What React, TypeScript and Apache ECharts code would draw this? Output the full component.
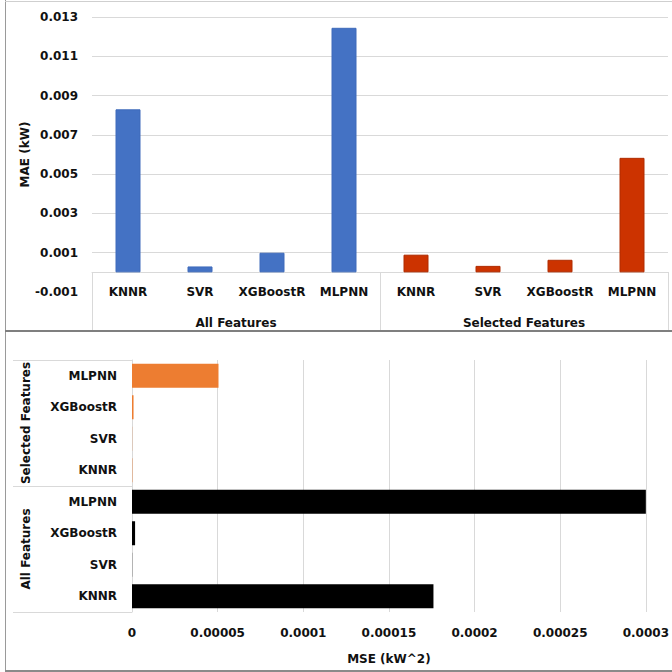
import React, { useEffect, useRef } from "react";
import * as echarts from "echarts";

const models = ["KNNR", "SVR", "XGBoostR", "MLPNN"];
const groups = ["All Features", "Selected Features"];
const categories = [...models, ...models];

// MAE (kW)
const maeAll = [0.0083, 0.0003, 0.001, 0.01245];
const maeSelected = [0.0009, 0.00033, 0.00064, 0.00583];

// MSE (kW^2)
const mseAll = [0.000176, 0.0000001, 0.0000018, 0.0003];
const mseSelected = [0.0000002, 0.0000001, 0.0000009, 0.0000505];

const maeTicks = { min: -0.001, max: 0.013, interval: 0.002 };
const mseTicks = { min: 0, max: 0.0003, interval: 0.00005 };

const FONT = "DejaVu Sans";
const TXT = "#111111";
const GRID = "#d9d9d9";

export default function App() {
  const ref = useRef<HTMLDivElement>(null);
  useEffect(() => {
    if (!ref.current) return;
    const chart = echarts.init(ref.current, null, { renderer: "svg" });
    const nulls = models.map(() => null);
    const labelStyle = { color: TXT, fontFamily: FONT, fontWeight: "bold" as const, fontSize: 12 };
    const option: any = {
      animation: false,
      backgroundColor: "#ffffff",
      grid: [
        { left: 92, right: 4, top: 17, height: 275 },
        { left: 132, width: 517, top: 360, height: 252 },
      ],
      xAxis: [
        {
          type: "category",
          gridIndex: 0,
          data: categories,
          position: "bottom",
          offset: -20,
          axisLine: { show: false, onZero: false },
          axisTick: { show: false },
          axisLabel: { ...labelStyle, interval: 0, margin: 14 },
          splitLine: { show: false },
        },
        {
          type: "category",
          gridIndex: 0,
          data: groups,
          position: "bottom",
          offset: -20,
          axisLine: { show: true, onZero: false, lineStyle: { color: GRID, width: 1 } },
          axisTick: { show: true, length: 58, lineStyle: { color: GRID, width: 1 } },
          axisLabel: { ...labelStyle, interval: 0, margin: 45 },
          splitLine: { show: false },
        },
        {
          type: "value",
          gridIndex: 1,
          min: mseTicks.min,
          max: mseTicks.max,
          interval: mseTicks.interval,
          axisLine: { show: false },
          axisTick: { show: false },
          axisLabel: {
            ...labelStyle,
            margin: 15,
            formatter: (v: number) => String(parseFloat(v.toFixed(5))),
          },
          splitLine: { show: true, lineStyle: { color: GRID, width: 1 } },
          name: "MSE (kW^2)",
          nameLocation: "middle",
          nameGap: 41,
          nameMoveOverlap: false,
          nameTextStyle: { ...labelStyle },
        },
      ],
      yAxis: [
        {
          type: "value",
          gridIndex: 0,
          min: maeTicks.min,
          max: maeTicks.max,
          interval: maeTicks.interval,
          axisLine: { show: false },
          axisTick: { show: false },
          axisLabel: { ...labelStyle, margin: 14, formatter: (v: number) => v.toFixed(3) },
          splitLine: {
            show: true,
            lineStyle: {
              color: ["rgba(0,0,0,0)", GRID, GRID, GRID, GRID, GRID, GRID, GRID],
              width: 1,
            },
          },
          name: "MAE (kW)",
          nameLocation: "middle",
          nameGap: 61,
          nameMoveOverlap: false,
          nameTextStyle: { ...labelStyle },
        },
        {
          type: "category",
          gridIndex: 1,
          data: categories,
          position: "left",
          axisLine: { show: false },
          axisTick: { show: false },
          axisLabel: { ...labelStyle, interval: 0, margin: 15 },
          splitLine: { show: false },
        },
        {
          type: "category",
          gridIndex: 1,
          data: groups,
          position: "left",
          axisLine: { show: true, onZero: false, lineStyle: { color: GRID, width: 1 } },
          axisTick: { show: true, length: 119, lineStyle: { color: GRID, width: 1 } },
          axisLabel: { ...labelStyle, interval: 0, rotate: 90, margin: 100 },
          splitLine: { show: false },
        },
      ],
      series: [
        {
          type: "bar",
          xAxisIndex: 0,
          yAxisIndex: 0,
          stack: "mae",
          barWidth: 25,
          data: [...maeAll, ...nulls],
          itemStyle: { color: "#4472C4", borderColor: "#3f6bbb", borderWidth: 1 },
        },
        {
          type: "bar",
          xAxisIndex: 0,
          yAxisIndex: 0,
          stack: "mae",
          barWidth: 25,
          data: [...nulls, ...maeSelected],
          itemStyle: { color: "#CC3300", borderColor: "#b02c00", borderWidth: 1 },
        },
        {
          type: "bar",
          xAxisIndex: 2,
          yAxisIndex: 1,
          stack: "mse",
          barWidth: 24,
          data: [...mseAll, ...nulls],
          itemStyle: { color: "#000000" },
        },
        {
          type: "bar",
          xAxisIndex: 2,
          yAxisIndex: 1,
          stack: "mse",
          barWidth: 24,
          data: [...nulls, ...mseSelected],
          itemStyle: { color: "#ED7D31" },
        },
      ],
      graphic: [
        { type: "line", shape: { x1: 5.5, y1: 0, x2: 5.5, y2: 672 }, style: { stroke: "#9a9a9a", lineWidth: 1 } },
        { type: "line", shape: { x1: 5, y1: 1.5, x2: 672, y2: 1.5 }, style: { stroke: "#cfcfcf", lineWidth: 1 } },
        { type: "line", shape: { x1: 5, y1: 331, x2: 672, y2: 331 }, style: { stroke: "#7f7f7f", lineWidth: 2 } },
        { type: "line", shape: { x1: 5, y1: 671, x2: 672, y2: 671 }, style: { stroke: "#8a8a8a", lineWidth: 2 } },
      ],
    };
    chart.setOption(option);
    return () => chart.dispose();
  }, []);
  return (
    <div
      ref={ref}
      style={{ position: "fixed", left: 0, top: 0, width: 672, height: 672, background: "#fff" }}
    />
  );
}
